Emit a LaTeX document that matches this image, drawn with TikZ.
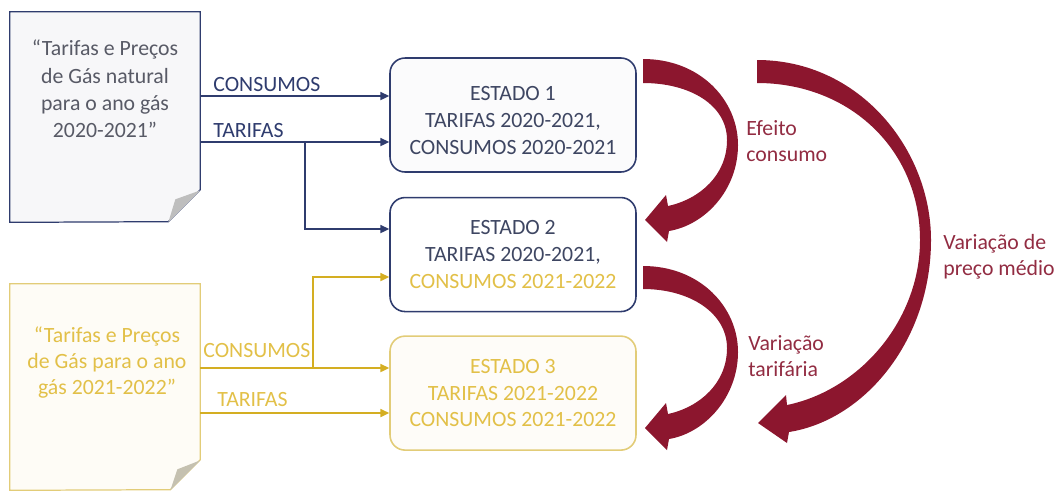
\documentclass[tikz,border=0pt]{standalone}
\usepackage{fontspec}
\setmainfont{Carlito}
\usetikzlibrary{arrows.meta,positioning}
\definecolor{navy}{RGB}{47,60,110}
\definecolor{navytext}{RGB}{62,70,98}
\definecolor{doctext}{RGB}{88,90,102}
\definecolor{goldline}{RGB}{212,174,34}
\definecolor{goldtext}{RGB}{226,192,72}
\definecolor{goldedge}{RGB}{226,204,120}
\definecolor{wine}{RGB}{140,22,46}
\definecolor{winetext}{RGB}{146,44,66}
\definecolor{foldgray}{RGB}{190,190,190}

\begin{document}
\begin{tikzpicture}[x=0.02cm,y=-0.02cm,
	every node/.style={font=\fontsize{12.4}{15.3}\selectfont},
	estado/.style={rectangle,rounded corners=0.3cm,draw,line width=0.9pt,minimum width=4.92cm,minimum height=2.28cm,align=center,inner sep=0},
	doc/.style={rectangle,minimum width=3.8cm,inner sep=0},
	doctxt/.style={align=center,inner sep=0,font=\fontsize{12.4}{15.6}\selectfont},
	lbl/.style={inner sep=0,anchor=base west},
	rlbl/.style={inner sep=0,anchor=north west,align=left,text=winetext,font=\fontsize{12.4}{14.8}\selectfont},
	azul/.style={draw=navy,line width=1.1pt,-{Triangle[length=5pt,width=4.5pt]}},
	ouro/.style={draw=goldline,line width=1.1pt,-{Triangle[length=5pt,width=4.5pt]}}]
	\useasboundingbox (0,0) rectangle (1057,491);

	% documentos
	\node (d1)[doc,minimum height=4.2cm] at (105,117) {};
	\draw[navy,line width=0.7pt,fill=navy!4] (d1.north west) -- (d1.north east) -- ++(0,178) -- ++(-32,32) -- (d1.south west) -- cycle;
	\fill[foldgray] (d1.south east) ++(0,-32) -- ++(-32,32) -- ++(7,-23) -- cycle;
	\node (t1)[doctxt,text=doctext] at (105,89) {“Tarifas e Preços\\de Gás natural\\para o ano gás\\2020-2021”};

	\node (d2)[doc,minimum height=4.12cm] at (105,387) {};
	\draw[goldedge,line width=0.7pt,fill=goldtext!5] (d2.north west) -- (d2.north east) -- ++(0,176) -- ++(-30,30) -- (d2.south west) -- cycle;
	\fill[foldgray!80!goldedge] (d2.south east) ++(0,-30) -- ++(-30,30) -- ++(7,-21) -- cycle;
	\node (t2)[doctxt,text=goldtext,font=\fontsize{12.4}{14.8}\selectfont] at (107,363) {“Tarifas e Preços\\de Gás para o ano\\gás 2021-2022”};

	% estados
	\node (e1)[estado,draw=navy,fill=navy!2,text=navytext] at (513,115) {\rule{0pt}{14pt}ESTADO 1\\TARIFAS 2020-2021,\\CONSUMOS 2020-2021};
	\node (e2)[estado,draw=navy,fill=white,text=navytext,below=0.48cm of e1] {ESTADO 2\\TARIFAS 2020-2021,\\\textcolor{goldtext}{CONSUMOS 2021-2022}};
	\node (e3)[estado,draw=goldedge,fill=goldtext!4,text=goldtext,below=0.46cm of e2] {ESTADO 3\\TARIFAS 2021-2022\\CONSUMOS 2021-2022};

	% ligacoes
	\node (l1)[lbl,text=navy] at (213,91) {CONSUMOS};
	\node (l2)[lbl,text=navy] at (213,137) {TARIFAS};
	\draw[azul] (d1.east |- 0,96) -- (e1.west |- 0,96);
	\draw[azul] (d1.east |- 0,142) -- (e1.west |- 0,142);
	\coordinate (b1) at (305,142);
	\draw[azul] (b1) |- (e2.west |- 0,229);

	\node (l3)[lbl,text=goldtext] at (203,357) {CONSUMOS};
	\node (l4)[lbl,text=goldtext] at (217,406) {TARIFAS};
	\draw[ouro] (d2.east |- 0,368) -- (e3.west |- 0,368);
	\draw[ouro] (d2.east |- 0,413) -- (e3.west |- 0,413);
	\coordinate (b2) at (313,368);
	\draw[ouro] (b2) |- (e2.west |- 0,277);

	% setas curvas
	\fill[wine] (643,59) .. controls (700,59) and (738,100) .. (738,145) .. controls (738,190) and (705,225) .. (669,231) -- (667,242) -- (645,220) -- (666,195) -- (668,206) .. controls (700,199) and (727,175) .. (727,140) .. controls (727,105) and (690,83) .. (643,83) -- cycle;
	\fill[wine] (643,266) .. controls (700,266) and (738,307) .. (738,352) .. controls (738,397) and (705,433) .. (669,439) -- (667,450) -- (645,428) -- (666,403) -- (668,414) .. controls (700,407) and (727,383) .. (727,348) .. controls (727,313) and (690,289) .. (643,289) -- cycle;
	\fill[wine] (757,60) .. controls (860,60) and (931,150) .. (931,240) .. controls (931,340) and (865,420) .. (789,432) -- (787,443) -- (758,423) -- (786,395) -- (787,405) .. controls (860,390) and (920,320) .. (920,240) .. controls (920,150) and (850,83) .. (757,83) -- cycle;

	\node (n1)[rlbl] at (746,120) {Efeito\\consumo};
	\node (n2)[rlbl] at (748,335) {Variação\\tarifária};
	\node (n3)[rlbl] at (943,234) {Variação de\\preço médio};
\end{tikzpicture}
\end{document}
